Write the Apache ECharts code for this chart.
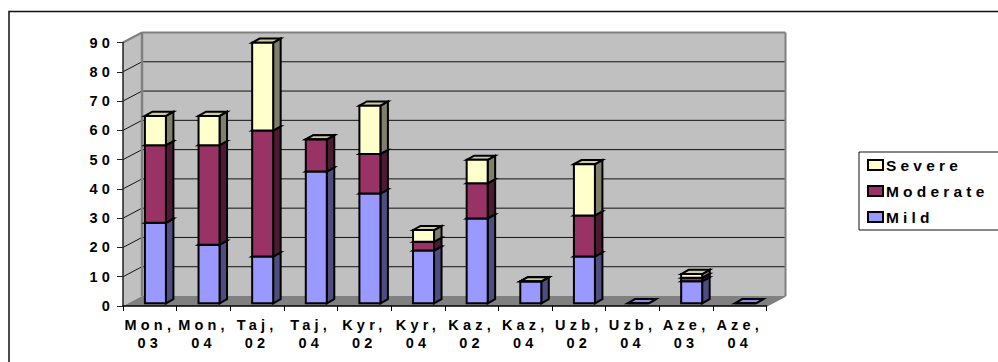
<!DOCTYPE html>
<html>
<head>
<meta charset="utf-8">
<style>
  html, body { margin: 0; padding: 0; background: #fff; overflow: hidden; }
  #chart { width: 998px; height: 362px; }
  #chart svg text { letter-spacing: 4.2px; }
</style>
<script src="https://cdn.jsdelivr.net/npm/echarts@6/dist/echarts.min.js"></script>
</head>
<body>
<div id="chart"></div>
<script>
// Cases by severity per country and survey year
const categories = ['Mon, 03', 'Mon, 04', 'Taj, 02', 'Taj, 04', 'Kyr, 02', 'Kyr, 04',
                    'Kaz, 02', 'Kaz, 04', 'Uzb, 02', 'Uzb, 04', 'Aze, 03', 'Aze, 04'];
const mild     = [27.5, 20, 16, 45, 37.5, 18, 29, 7.5, 16, 0, 7.5, 0];
const moderate = [26.5, 34, 43, 11, 13.5, 3, 12, 0, 14, null, 1.2, null];
const severe   = [10, 10, 30, 0, 16.5, 4, 8, 0, 17.5, null, 1.3, null];
const yMax = 90;
const yStep = 10;
const yTicks = [0, 10, 20, 30, 40, 50, 60, 70, 80, 90];

// Pseudo-3D geometry, in pixels
const WALL_DX = 19, WALL_DY = -10;
const BAR_W = 21, BAR_DX = 5.6, BAR_DY = -2.7, SIDE_DX = 7.5, SIDE_DY = -4.2;

const poly = (points, fill, stroke, lineWidth) => ({
  type: 'polygon',
  shape: { points },
  style: { fill, stroke, lineWidth, lineJoin: 'miter' }
});
const line = (a, b, stroke, lineWidth) => ({
  type: 'line',
  shape: { x1: a[0], y1: a[1], x2: b[0], y2: b[1] },
  style: { stroke, lineWidth }
});

// Back wall, side wall, floor and the gridlines that run across them
function renderWalls(params, api) {
  const c = params.coordSys;
  const L = c.x, R = c.x + c.width, B = c.y + c.height, T = c.y;
  const children = [
    poly([[L + WALL_DX, T + WALL_DY], [R + WALL_DX, T + WALL_DY], [R + WALL_DX, B + WALL_DY], [L + WALL_DX, B + WALL_DY]], '#c0c0c0', null, 0),
    poly([[L, T], [L + WALL_DX, T + WALL_DY], [L + WALL_DX, B + WALL_DY], [L, B]], '#c0c0c0', null, 0),
    poly([[L, B], [L + WALL_DX, B + WALL_DY], [R + WALL_DX, B + WALL_DY], [R, B]], '#808080', null, 0)
  ];
  yTicks.forEach(t => {
    const y = api.coord([0, t])[1];
    if (t > 0 && t < yMax) {
      children.push(line([L + WALL_DX, y + WALL_DY], [R + WALL_DX, y + WALL_DY], '#111', 1));
      children.push(line([L, y], [L + WALL_DX, y + WALL_DY], '#111', 1));
    }
  });
  children.push(line([L, T], [L + WALL_DX, T + WALL_DY], '#808080', 2));
  children.push(line([L + WALL_DX, T + WALL_DY], [R + WALL_DX, T + WALL_DY], '#808080', 2));
  children.push(line([L + WALL_DX, T + WALL_DY], [L + WALL_DX, B + WALL_DY], '#808080', 2.5));
  children.push(line([R + WALL_DX, T + WALL_DY], [R + WALL_DX, B + WALL_DY], '#808080', 2));
  children.push(line([R, B], [R + WALL_DX, B + WALL_DY], '#808080', 1.5));
  return { type: 'group', children };
}

// One stacked segment: front face, shaded side and lit top
function barRenderer(front, side, top) {
  return function (params, api) {
    const p0 = api.coord([api.value(0), api.value(1)]);
    const p1 = api.coord([api.value(0), api.value(2)]);
    const x0 = p0[0] + BAR_DX - BAR_W / 2, x1 = x0 + BAR_W;
    const yb = p0[1] + BAR_DY, yt = p1[1] + BAR_DY;
    return {
      type: 'group',
      children: [
        poly([[x1, yb], [x1 + SIDE_DX, yb + SIDE_DY], [x1 + SIDE_DX, yt + SIDE_DY], [x1, yt]], side, '#000', 2),
        poly([[x0, yt], [x0 + SIDE_DX, yt + SIDE_DY], [x1 + SIDE_DX, yt + SIDE_DY], [x1, yt]], top, '#000', 2),
        poly([[x0, yb], [x1, yb], [x1, yt], [x0, yt]], front, '#000', 2)
      ]
    };
  };
}

// Running totals turn the three value arrays into stacked [index, base, top] rows
const totals = categories.map(() => 0);
function stackRows(values) {
  const rows = [];
  values.forEach((v, i) => {
    if (v === null) return;
    rows.push([i, totals[i], totals[i] + v]);
    totals[i] += v;
  });
  return rows;
}

function barSeries(name, values, front, side, top) {
  return {
    name,
    type: 'custom',
    clip: false,
    z: 3,
    encode: { x: 0, y: 2 },
    itemStyle: { color: front, borderColor: '#000', borderWidth: 2 },
    data: stackRows(values),
    renderItem: barRenderer(front, side, top)
  };
}

const labelFont = { fontFamily: 'Liberation Sans', fontWeight: 'bold', fontSize: 14.5, color: '#000' };

const chart = echarts.init(document.getElementById('chart'), null, { renderer: 'svg', width: 998, height: 362 });
chart.setOption({
  animation: false,
  backgroundColor: '#fff',
  graphic: [{
    type: 'rect',
    silent: true,
    z: -1,
    shape: { x: 9, y: 11.5, width: 1100, height: 500 },
    style: { fill: '#fff', stroke: '#111', lineWidth: 1.5 }
  }],
  legend: {
    orient: 'vertical',
    left: 859,
    top: 152,
    data: ['Severe', 'Moderate', 'Mild'],
    itemWidth: 15,
    itemHeight: 10,
    itemGap: 10,
    padding: [5, 60, 5, 8],
    borderColor: '#111',
    borderWidth: 1,
    backgroundColor: '#fff',
    selectedMode: false,
    icon: 'rect',
    itemStyle: { borderColor: '#000', borderWidth: 2 },
    textStyle: Object.assign({}, labelFont, { fontSize: 15.5, padding: [0, 0, 0, -2] })
  },
  grid: { left: 123, right: 231.5, top: 42.5, bottom: 56 },
  xAxis: {
    type: 'category',
    data: categories,
    z: 5,
    axisLine: { lineStyle: { color: '#000', width: 1.5 } },
    axisTick: { show: true, alignWithLabel: false, length: 5, lineStyle: { color: '#000', width: 1 } },
    axisLabel: Object.assign({}, labelFont, {
      interval: 0,
      margin: 10,
      lineHeight: 18,
      formatter: v => v.replace(', ', ',\n')
    })
  },
  yAxis: {
    type: 'value',
    min: 0,
    max: yMax,
    interval: yStep,
    z: 5,
    axisLine: { show: true, lineStyle: { color: '#222', width: 1.5 } },
    axisTick: { show: true, length: 6, lineStyle: { color: '#222', width: 1 } },
    axisLabel: Object.assign({}, labelFont, { margin: 9 }),
    splitLine: { show: false }
  },
  series: [
    {
      type: 'custom',
      silent: true,
      clip: false,
      z: 1,
      encode: { x: 0, y: 1 },
      data: [[0, 0]],
      renderItem: renderWalls
    },
    barSeries('Mild', mild, '#9999ff', '#4d4d80', '#8c8ce6'),
    barSeries('Moderate', moderate, '#993366', '#4d1a33', '#b36b8f'),
    barSeries('Severe', severe, '#ffffcc', '#80806a', '#cccca3')
  ]
});
</script>
</body>
</html>
